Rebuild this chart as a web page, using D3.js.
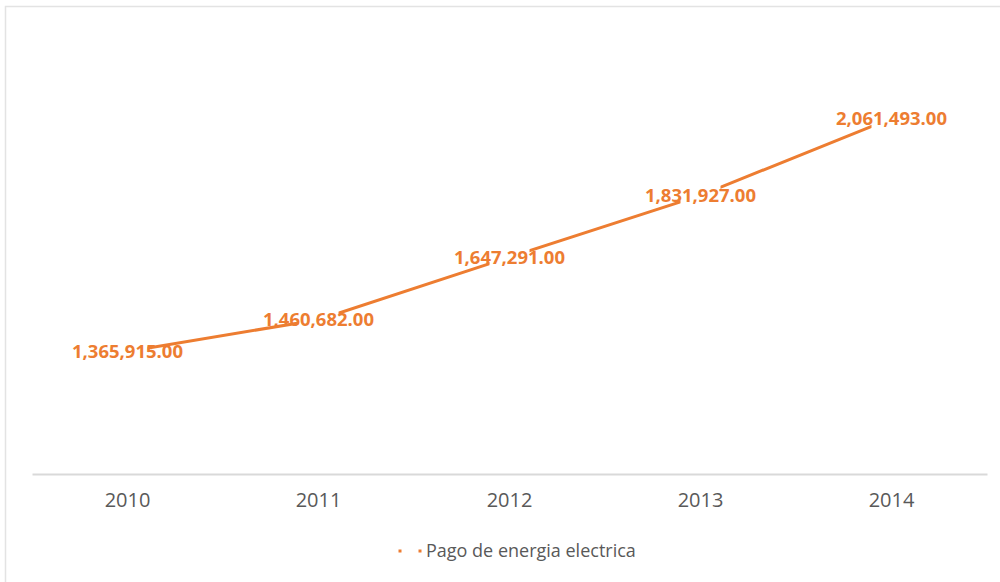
<!DOCTYPE html>
<html>
<head>
<meta charset="utf-8">
<script src="https://cdn.jsdelivr.net/npm/d3@7"></script>
<style>
  body { margin: 0; background: #fff; }
  svg { display: block; }
</style>
</head>
<body>
<svg id="chart" width="1000" height="582"></svg>
<script>
const years = ["2010", "2011", "2012", "2013", "2014"];
const pagos = [1365915, 1460682, 1647291, 1831927, 2061493];
const seriesName = "Pago de energia electrica";
const yDomain = [1000000, 2200000];

const orange = "#ED7D31";
const svg = d3.select("#chart");

// chart area frame (only top + left show in the capture)
svg.append("path")
  .attr("d", "M5.5,582V6.5H1000")
  .attr("fill", "none")
  .attr("stroke", "#e3e3e3")
  .attr("stroke-width", 1.5);

let x = d3.scaleBand().domain(years).range([32, 987]);
let y = d3.scaleLinear().domain(yDomain).range([474, 72]);

let data = years.map((yr, i) => ({ year: yr, value: pagos[i] }));
let cx = d => x(d.year) + x.bandwidth() / 2;

// x axis
let xAxis = svg.append("g")
  .attr("transform", "translate(0, 474)")
  .call(d3.axisBottom(x).tickSize(0).tickPadding(19));

xAxis.select(".domain").attr("stroke", "#d9d9d9").attr("stroke-width", 2);
xAxis.selectAll("text")
  .attr("fill", "#595959")
  .attr("font-family", "'Open Sans', sans-serif")
  .attr("font-size", 20);

// data labels
let fmt = d3.format(",.2f");
svg.append("g")
  .selectAll("text")
  .data(data)
  .enter()
  .append("text")
  .attr("x", cx)
  .attr("y", d => y(d.value))
  .attr("dy", "0.35em")
  .attr("text-anchor", "middle")
  .attr("fill", orange)
  .attr("font-family", "'Open Sans', sans-serif")
  .attr("font-weight", 700)
  .attr("font-size", 18.5)
  .text(d => fmt(d.value));

// line is cut open around each point
let mask = svg.append("defs").append("mask").attr("id", "gaps");
mask.append("rect").attr("width", 1000).attr("height", 582).attr("fill", "#fff");
mask.selectAll("rect.gap")
  .data(data)
  .enter()
  .append("rect")
  .attr("class", "gap")
  .attr("x", d => cx(d) - 20)
  .attr("y", d => y(d.value) - 11)
  .attr("width", 40)
  .attr("height", 22)
  .attr("fill", "#000");

let line = d3.line().x(cx).y(d => y(d.value));

svg.append("path")
  .datum(data)
  .attr("d", line)
  .attr("fill", "none")
  .attr("stroke", orange)
  .attr("stroke-width", 3)
  .attr("stroke-linecap", "round")
  .attr("mask", "url(#gaps)");

// legend
let legend = svg.append("g").attr("transform", "translate(0, 551)");
legend.selectAll("rect")
  .data([400, 420])
  .enter()
  .append("rect")
  .attr("x", d => d - 1.5)
  .attr("y", -1.5)
  .attr("width", 3)
  .attr("height", 3)
  .attr("fill", orange);

legend.append("text")
  .attr("x", 426)
  .attr("dy", "0.35em")
  .attr("fill", "#595959")
  .attr("font-family", "'Open Sans', sans-serif")
  .attr("font-size", 18)
  .text(seriesName);
</script>
</body>
</html>
